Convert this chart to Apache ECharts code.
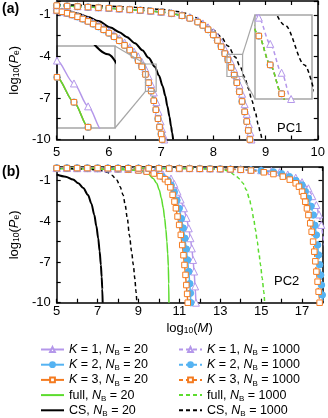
<!DOCTYPE html>
<html>
<head>
<meta charset="utf-8">
<script src="https://cdn.jsdelivr.net/npm/echarts/dist/echarts.min.js"></script>
<style>
  html, body { margin: 0; padding: 0; background: #fff; }
  #main { width: 328px; height: 418px; }
</style>
</head>
<body>
<div id="main"></div>
<script>
// ---- data: [log10(M), log10(Pe)] ----
// panel (a), PC1
var aK1_20 = [[5.0,-0.66],[5.1,-0.75],[5.2,-0.85],[5.3,-0.96],[5.4,-1.09],[5.5,-1.23],[5.6,-1.39],[5.7,-1.56],[5.8,-1.75],[5.9,-1.96],[6.0,-2.18],[6.1,-2.43],[6.2,-2.7],[6.3,-3.0],[6.4,-3.34],[6.48,-3.65],[6.56,-4.0],[6.63,-4.4],[6.7,-4.9],[6.76,-5.45],[6.81,-6.0],[6.86,-6.6],[6.91,-7.3],[6.95,-8.0],[6.99,-8.7],[7.02,-9.25],[7.045,-9.7],[7.06,-10]];
// K = 2, K = 3 and full lie on top of each other for NB = 20
var aBand_20 = [[5.0,-0.68],[5.1,-0.78],[5.2,-0.88],[5.3,-1.0],[5.4,-1.14],[5.5,-1.3],[5.6,-1.47],[5.7,-1.66],[5.8,-1.86],[5.9,-2.08],[6.0,-2.32],[6.1,-2.58],[6.2,-2.87],[6.3,-3.2],[6.4,-3.55],[6.48,-3.9],[6.56,-4.3],[6.63,-4.75],[6.7,-5.3],[6.76,-5.9],[6.81,-6.5],[6.86,-7.2],[6.9,-7.85],[6.94,-8.5],[6.97,-9.1],[7.0,-9.6],[7.02,-10]];
var aCS_20 = [[5.0,-0.55],[5.2,-0.7],[5.4,-0.9],[5.6,-1.15],[5.8,-1.45],[6.03,-1.92],[6.2,-2.25],[6.34,-2.6],[6.5,-3.05],[6.64,-3.55],[6.76,-4.1],[6.88,-4.75],[6.96,-5.4],[7.03,-6.15],[7.08,-6.85],[7.12,-7.6],[7.16,-8.35],[7.19,-9.05],[7.21,-9.5],[7.23,-10]];
var aK1_1000 = [[5.0,-0.31],[5.2,-0.34],[5.4,-0.38],[5.6,-0.42],[5.8,-0.46],[6.0,-0.5],[6.2,-0.55],[6.4,-0.6],[6.6,-0.65],[6.8,-0.71],[7.0,-0.78],[7.2,-0.87],[7.4,-1.0],[7.55,-1.17],[7.7,-1.4],[7.8,-1.62],[7.9,-1.9],[8.0,-2.25],[8.08,-2.6],[8.15,-2.98],[8.22,-3.45],[8.28,-3.9],[8.34,-4.4],[8.4,-4.95],[8.45,-5.45],[8.5,-6.05],[8.55,-6.7],[8.6,-7.45],[8.64,-8.15],[8.68,-8.9],[8.71,-9.5],[8.73,-10]];
var aBand_1000 = [[5.0,-0.33],[5.2,-0.36],[5.4,-0.4],[5.6,-0.44],[5.8,-0.48],[6.0,-0.52],[6.2,-0.57],[6.4,-0.62],[6.6,-0.67],[6.8,-0.73],[7.0,-0.8],[7.2,-0.9],[7.4,-1.06],[7.55,-1.25],[7.7,-1.52],[7.8,-1.76],[7.9,-2.07],[8.0,-2.45],[8.08,-2.85],[8.15,-3.3],[8.22,-3.8],[8.28,-4.25],[8.34,-4.8],[8.4,-5.35],[8.45,-5.9],[8.5,-6.55],[8.55,-7.25],[8.6,-8.0],[8.64,-8.7],[8.67,-9.35],[8.7,-10]];
var aCS_1000 = [[5.0,-0.25],[5.5,-0.3],[6.0,-0.37],[6.5,-0.46],[7.0,-0.6],[7.3,-0.75],[7.48,-0.89],[7.66,-1.2],[7.84,-1.61],[8.0,-2.1],[8.15,-2.6],[8.28,-3.25],[8.42,-4.05],[8.52,-4.8],[8.6,-5.5],[8.67,-6.3],[8.74,-7.2],[8.8,-8.0],[8.86,-8.9],[8.9,-9.5],[8.93,-10]];

// panel (b), PC2
var bK1_20 = [[5.0,-0.08],[5.5,-0.08],[6.0,-0.09],[6.5,-0.09],[7.0,-0.1],[7.5,-0.11],[8.0,-0.13],[8.5,-0.15],[9.0,-0.19],[9.4,-0.25],[9.8,-0.36],[10.2,-0.55],[10.59,-0.85],[10.75,-1.25],[10.91,-1.82],[11.06,-2.4],[11.22,-3.04],[11.35,-3.75],[11.46,-4.52],[11.54,-5.25],[11.61,-6.0],[11.67,-6.85],[11.72,-7.7],[11.77,-8.8],[11.81,-10]];
var bK2_20 = [[5.0,-0.09],[5.5,-0.09],[6.0,-0.1],[6.5,-0.1],[7.0,-0.11],[7.5,-0.12],[8.0,-0.14],[8.5,-0.17],[9.0,-0.22],[9.4,-0.3],[9.8,-0.45],[10.15,-0.7],[10.45,-1.0],[10.6,-1.35],[10.75,-1.85],[10.88,-2.45],[10.99,-3.05],[11.1,-3.8],[11.19,-4.5],[11.27,-5.25],[11.34,-6.05],[11.4,-6.85],[11.46,-7.7],[11.51,-8.6],[11.54,-9.3],[11.56,-10]];
var bK3_20 = [[5.0,-0.1],[5.5,-0.1],[6.0,-0.11],[6.5,-0.11],[7.0,-0.12],[7.5,-0.13],[8.0,-0.15],[8.5,-0.19],[9.0,-0.25],[9.4,-0.34],[9.75,-0.48],[10.05,-0.68],[10.3,-0.9],[10.44,-1.1],[10.56,-1.5],[10.67,-2.05],[10.76,-2.55],[10.83,-3.04],[10.91,-3.65],[10.99,-4.27],[11.07,-5.0],[11.14,-5.75],[11.2,-6.5],[11.25,-7.22],[11.3,-7.95],[11.34,-8.7],[11.38,-9.35],[11.41,-10]];
var bFull_20 = [[5.0,-0.12],[6.0,-0.13],[7.0,-0.15],[7.63,-0.17],[8.3,-0.2],[8.87,-0.25],[9.2,-0.35],[9.5,-0.54],[9.72,-0.85],[9.89,-1.2],[10.02,-1.7],[10.12,-2.31],[10.21,-3.0],[10.28,-3.78],[10.34,-4.6],[10.39,-5.5],[10.43,-6.4],[10.46,-7.3],[10.48,-8.6],[10.49,-10]];
var bCS_20 = [[5.0,-0.55],[5.44,-0.71],[5.8,-0.92],[6.06,-1.2],[6.3,-1.55],[6.53,-2.06],[6.7,-2.7],[6.84,-3.54],[6.94,-4.35],[7.03,-5.25],[7.1,-6.2],[7.16,-7.22],[7.2,-8.1],[7.23,-9.0],[7.25,-10]];
var bK1_1000 = [[5.0,-0.06],[5.5,-0.06],[6.0,-0.06],[6.5,-0.06],[7.0,-0.06],[7.5,-0.06],[8.0,-0.07],[8.5,-0.07],[9.0,-0.07],[9.5,-0.07],[10.0,-0.08],[10.5,-0.08],[11.0,-0.09],[11.5,-0.09],[12.0,-0.1],[12.5,-0.11],[13.0,-0.12],[13.5,-0.14],[14.0,-0.16],[14.5,-0.2],[15.0,-0.24],[15.5,-0.3],[15.9,-0.38],[16.3,-0.55],[16.69,-0.79],[17.0,-1.12],[17.31,-1.57],[17.5,-2.15],[17.7,-2.8],[17.83,-3.5],[17.94,-4.27],[18.02,-5.0],[18.09,-5.75],[18.15,-6.5]];
var bK2_1000 = [[5.0,-0.07],[5.5,-0.07],[6.0,-0.07],[6.5,-0.07],[7.0,-0.07],[7.5,-0.08],[8.0,-0.08],[8.5,-0.08],[9.0,-0.08],[9.5,-0.09],[10.0,-0.09],[10.5,-0.1],[11.0,-0.1],[11.5,-0.11],[12.0,-0.12],[12.5,-0.13],[13.0,-0.14],[13.5,-0.16],[14.0,-0.18],[14.5,-0.22],[15.0,-0.27],[15.6,-0.36],[16.0,-0.5],[16.38,-0.71],[16.7,-1.0],[17.0,-1.33],[17.16,-1.8],[17.31,-2.31],[17.44,-2.9],[17.55,-3.54],[17.63,-4.3],[17.7,-5.01],[17.76,-5.75],[17.81,-6.48],[17.86,-7.2],[17.91,-7.96],[17.95,-8.7],[17.99,-9.43],[18.02,-10]];
var bK3_1000 = [[5.0,-0.08],[5.5,-0.08],[6.0,-0.08],[6.5,-0.08],[7.0,-0.08],[7.5,-0.09],[8.0,-0.09],[8.5,-0.09],[9.0,-0.1],[9.5,-0.1],[10.0,-0.1],[10.5,-0.11],[11.0,-0.11],[11.5,-0.12],[12.0,-0.13],[12.5,-0.14],[13.0,-0.15],[13.5,-0.17],[14.0,-0.2],[14.5,-0.26],[15.13,-0.39],[15.6,-0.52],[16.06,-0.71],[16.4,-0.93],[16.69,-1.2],[16.85,-1.45],[17.0,-1.82],[17.08,-2.15],[17.16,-2.56],[17.24,-3.05],[17.31,-3.54],[17.4,-4.15],[17.47,-4.77],[17.54,-5.5],[17.6,-6.24],[17.65,-6.95],[17.7,-7.71],[17.76,-8.45],[17.81,-9.19],[17.86,-10]];
var bFull_1000 = [[5.0,-0.09],[7.0,-0.09],[9.0,-0.1],[11.0,-0.11],[12.0,-0.12],[12.78,-0.15],[13.2,-0.22],[13.45,-0.35],[13.72,-0.6],[13.95,-0.88],[14.11,-1.2],[14.28,-1.7],[14.42,-2.31],[14.53,-3.0],[14.63,-3.78],[14.72,-4.6],[14.81,-5.5],[14.89,-6.35],[14.97,-7.22],[15.05,-8.2],[15.13,-9.19],[15.17,-10]];
var bCS_1000 = [[5.0,-0.1],[5.5,-0.11],[6.0,-0.13],[6.3,-0.15],[6.84,-0.2],[7.2,-0.28],[7.47,-0.39],[7.7,-0.6],[7.94,-0.96],[8.1,-1.45],[8.25,-2.06],[8.35,-2.8],[8.45,-3.75],[8.56,-5.05],[8.66,-6.2],[8.75,-7.22],[8.82,-8.2],[8.88,-9.19],[8.92,-10]];

// tick labels
var yLabels = [-10, -7, -4, -1];
// zoomed windows of the two insets in panel (a): [xmin, xmax, ymin, ymax]
var insetL = [6.70, 6.905, -6.52, -4.55];
var insetR = [8.26, 8.56, -5.45, -3.85];

var FONT = "Liberation Sans";
var purple = "#b497ea", blue = "#55b3f2", orange = "#f47b20", green = "#5cdc2e";

var styles = {
  k1: { color: purple, symbol: "triangle", size: 7, fill: "#fff" },
  k2: { color: blue, symbol: "circle", size: 6.5, fill: blue },
  k3: { color: orange, symbol: "rect", size: 5.5, fill: "#fff" },
  full: { color: green, symbol: "none" },
  cs: { color: "#000", symbol: "none" }
};

var labels = {
  k1_20: "{i|K} = 1, {i|N}{s|B} = 20",
  k2_20: "{i|K} = 2, {i|N}{s|B} = 20",
  k3_20: "{i|K} = 3, {i|N}{s|B} = 20",
  full_20: "full, {i|N}{s|B} = 20",
  cs_20: "CS, {i|N}{s|B} = 20",
  k1_1000: "{i|K} = 1, {i|N}{s|B} = 1000",
  k2_1000: "{i|K} = 2, {i|N}{s|B} = 1000",
  k3_1000: "{i|K} = 3, {i|N}{s|B} = 1000",
  full_1000: "full, {i|N}{s|B} = 1000",
  cs_1000: "CS, {i|N}{s|B} = 1000"
};
var legendOrder = ["k1", "k2", "k3", "full", "cs"];

var setA = [
  ["k1", 20, aK1_20], ["k2", 20, aBand_20], ["k3", 20, aBand_20], ["full", 20, aBand_20], ["cs", 20, aCS_20],
  ["k1", 1000, aK1_1000], ["k2", 1000, aBand_1000], ["k3", 1000, aBand_1000], ["full", 1000, aBand_1000], ["cs", 1000, aCS_1000]
];
var setB = [
  ["k1", 20, bK1_20], ["k2", 20, bK2_20], ["k3", 20, bK3_20], ["full", 20, bFull_20], ["cs", 20, bCS_20],
  ["k1", 1000, bK1_1000], ["k2", 1000, bK2_1000], ["k3", 1000, bK3_1000], ["full", 1000, bFull_1000], ["cs", 1000, bCS_1000]
];

function makeSeries(item, xi, yi) {
  var st = styles[item[0]];
  var dashed = item[1] === 1000;
  return {
    name: item[0] + "_" + item[1],
    type: "line",
    xAxisIndex: xi,
    yAxisIndex: yi,
    data: item[2],
    smooth: 0.3,
    smoothMonotone: "x",
    clip: true,
    symbol: st.symbol,
    symbolSize: st.size || 0,
    showSymbol: st.symbol !== "none",
    lineStyle: {
      color: st.color,
      width: item[0] === "cs" && !dashed ? 2 : 1.5,
      type: dashed ? [4, 3] : "solid"
    },
    itemStyle: { color: st.fill || st.color, borderColor: st.color, borderWidth: 1 },
    emphasis: { disabled: true }
  };
}

var series = [];
setA.forEach(function(it) { series.push(makeSeries(it, 0, 0)); });
setB.forEach(function(it) { series.push(makeSeries(it, 2, 2)); });
setA.forEach(function(it) { series.push(makeSeries(it, 4, 4)); });
setA.forEach(function(it) { series.push(makeSeries(it, 5, 5)); });

function near(v, list) {
  for (var i = 0; i < list.length; i++) if (Math.abs(v - list[i]) < 1e-6) return true;
  return false;
}

var subRich = {
  n: { fontFamily: FONT, fontSize: 13, color: "#000" },
  i: { fontFamily: FONT, fontSize: 13, fontStyle: "italic", color: "#000" },
  s: { fontFamily: FONT, fontSize: 8.5, color: "#000", verticalAlign: "bottom" }
};

function xAx(grid, pos, max, interval, showLabel, fmt, margin) {
  return {
    type: "value", gridIndex: grid, position: pos, min: 5, max: max, interval: interval,
    axisLine: { show: true, onZero: false, lineStyle: { color: "#000", width: 1.5 } },
    axisTick: { show: true, inside: true, length: 4, lineStyle: { color: "#000", width: 1.2 } },
    axisLabel: showLabel ? { show: true, margin: margin, fontFamily: FONT, fontSize: 13, color: "#000", formatter: fmt } : { show: false },
    splitLine: { show: false }
  };
}
function yAx(grid, pos, showLabel) {
  return {
    type: "value", gridIndex: grid, position: pos, min: -10, max: 0, interval: 1.5,
    axisLine: { show: true, onZero: false, lineStyle: { color: "#000", width: 1.5 } },
    axisTick: { show: true, inside: true, length: 4, lineStyle: { color: "#000", width: 1.2 } },
    axisLabel: showLabel ? {
      show: true, margin: 6, fontFamily: FONT, fontSize: 13, color: "#000",
      formatter: function(v) { return near(v, yLabels) ? String(Math.round(v)) : ""; }
    } : { show: false },
    splitLine: { show: false },
    name: showLabel ? "{n|log}{s|10}{n|(}{i|P}{s|e}{n|)}" : "",
    nameLocation: "middle", nameRotate: 90, nameGap: 24,
    nameTextStyle: { rich: subRich }
  };
}
function hidden(grid, r, isX) {
  return { type: "value", gridIndex: grid, show: false, min: isX ? r[0] : r[2], max: isX ? r[1] : r[3], splitLine: { show: false } };
}

var fmtA = function(v) { return Math.abs(v - Math.round(v)) < 1e-6 ? String(Math.round(v)) : ""; };
var fmtB = function(v) { var r = Math.round(v); return Math.abs(v - r) < 1e-6 && r % 2 === 1 ? String(r) : ""; };

var xB = xAx(1, "bottom", 18, 1, true, fmtB, 2);
xB.name = "{n|log}{s|10}{n|(}{i|M}{n|)}";
xB.nameLocation = "middle";
xB.nameGap = 19;
xB.nameTextStyle = { rich: subRich };

// one legend component per row so the two columns line up exactly
var legends = [];
[20, 1000].forEach(function(nb, col) {
  legendOrder.forEach(function(key, row) {
    var name = key + "_" + nb;
    var noMark = styles[key].symbol === "none";
    legends.push({
      orient: "horizontal", left: col === 0 ? 40 : 178, top: 342 + row * 15.2,
      itemWidth: 23, itemHeight: 6, itemGap: 0, padding: 0,
      selectedMode: false,
      data: [noMark ? { name: name, itemStyle: { opacity: 0 } } : name],
      formatter: function(n) { return labels[n]; },
      textStyle: {
        fontFamily: FONT, fontSize: 12.5, color: "#000", lineHeight: 15,
        rich: {
          i: { fontFamily: FONT, fontSize: 12.5, fontStyle: "italic", color: "#000", lineHeight: 15 },
          s: { fontFamily: FONT, fontSize: 8, color: "#000", verticalAlign: "bottom", lineHeight: 15 }
        }
      }
    });
  });
});

var option = {
  animation: false,
  backgroundColor: "#fff",
  grid: [
    { left: 43, top: 1, width: 276, height: 138.5 },
    { left: 44, top: 167, width: 278.5, height: 135.7 },
    { left: 57, top: 46, width: 58, height: 82, show: true, backgroundColor: "#fff", borderColor: "#a6a6a6", borderWidth: 1.5 },
    { left: 255, top: 15, width: 57, height: 84, show: true, backgroundColor: "#fff", borderColor: "#a6a6a6", borderWidth: 1.5 }
  ],
  xAxis: [
    xAx(0, "bottom", 10, 0.5, true, fmtA, 6),
    xAx(0, "top", 10, 0.5, false),
    xB,
    xAx(1, "top", 18, 1, false),
    hidden(2, insetL, true),
    hidden(3, insetR, true)
  ],
  yAxis: [
    yAx(0, "left", true),
    yAx(0, "right", false),
    yAx(1, "left", true),
    yAx(1, "right", false),
    hidden(2, insetL, false),
    hidden(3, insetR, false)
  ],
  legend: legends,
  series: series
};

var chart = echarts.init(document.getElementById("main"));
chart.setOption(option);

// zoom boxes in panel (a) and the lines joining them to the insets
function px(p) { return chart.convertToPixel({ gridIndex: 0 }, p); }
var lt = px([insetL[0], insetL[3]]), lb = px([insetL[0], insetL[2]]), lr = px([insetL[1], insetL[2]]);
var rt = px([insetR[0], insetR[3]]), rb = px([insetR[1], insetR[2]]);
var gray = { stroke: "#a6a6a6", lineWidth: 1.2, fill: null };
chart.setOption({
  graphic: [
    { type: "rect", z: 50, shape: { x: lt[0], y: lt[1], width: lr[0] - lt[0], height: lb[1] - lt[1] }, style: gray },
    { type: "line", z: 50, shape: { x1: 115, y1: 46, x2: lt[0], y2: lt[1] }, style: gray },
    { type: "line", z: 50, shape: { x1: 115, y1: 128, x2: lb[0], y2: lb[1] }, style: gray },
    { type: "rect", z: 50, shape: { x: rt[0], y: rt[1], width: rb[0] - rt[0], height: rb[1] - rt[1] }, style: gray },
    { type: "line", z: 50, shape: { x1: 255, y1: 15, x2: rb[0], y2: rt[1] }, style: gray },
    { type: "line", z: 50, shape: { x1: 255, y1: 99, x2: rb[0], y2: rb[1] }, style: gray },
    { type: "text", z: 50, left: 2, top: 2, style: { text: "(a)", font: "bold 14px " + FONT, fill: "#000" } },
    { type: "text", z: 50, left: 2, top: 165, style: { text: "(b)", font: "bold 14px " + FONT, fill: "#000" } },
    { type: "text", z: 50, left: 277, top: 122, style: { text: "PC1", font: "13px " + FONT, fill: "#000" } },
    { type: "text", z: 50, left: 274, top: 275, style: { text: "PC2", font: "13px " + FONT, fill: "#000" } }
  ]
});
</script>
</body>
</html>
